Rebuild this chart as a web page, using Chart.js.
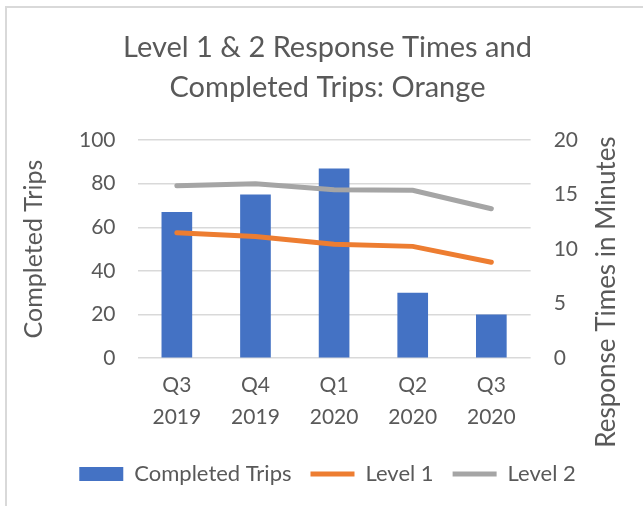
<!DOCTYPE html>
<html>
<head>
<meta charset="utf-8">
<script src="https://cdn.jsdelivr.net/npm/chart.js@4/dist/chart.umd.min.js"></script>
<style>
  body { margin: 0; background: #fff; }
  #frame { position: absolute; left: 5px; top: 6px; width: 700px; height: 600px; border: 2px solid #d9d9d9; }
  #wrap { position: absolute; left: 0; top: 0; width: 643px; height: 506px; }
</style>
</head>
<body>
<div id="frame"></div>
<div id="wrap"><canvas id="chart" width="643" height="506"></canvas></div>
<script>
"use strict";

var quarters = [["Q3", "2019"], ["Q4", "2019"], ["Q1", "2020"], ["Q2", "2020"], ["Q3", "2020"]];
var completedTrips = [67, 75, 87, 30, 20];
var level1 = [11.5, 11.15, 10.45, 10.25, 8.8];
var level2 = [15.8, 16.0, 15.45, 15.4, 13.7];

var textColor = '#595959';
var fontName = 'Lato';

// right axis title in the original reads bottom-to-top, so draw it here
var rightTitle = {
  id: 'rightTitle',
  afterDraw: function (chart) {
    var x = chart.width - 36;
    var y = (chart.scales.y1.top + chart.scales.x.bottom) / 2;
    var ctx = chart.ctx;
    ctx.save();
    ctx.translate(x, y);
    ctx.rotate(-Math.PI / 2);
    ctx.fillStyle = textColor;
    ctx.font = '26px ' + fontName;
    ctx.textAlign = 'center';
    ctx.textBaseline = 'middle';
    ctx.fillText('Response Times in Minutes', 0, 0);
    ctx.restore();
  }
};

var ctx = document.getElementById('chart').getContext('2d');
var chart = new Chart(ctx, {
  type: 'bar',
  data: {
    labels: quarters,
    datasets: [{
      label: 'Completed Trips',
      data: completedTrips,
      backgroundColor: '#4472C4',
      yAxisID: 'y',
      categoryPercentage: 1,
      barPercentage: 0.39,
      pointStyle: 'rect',
      order: 2
    }, {
      type: 'line',
      label: 'Level 1',
      data: level1,
      borderColor: '#ED7D31',
      backgroundColor: '#ED7D31',
      borderWidth: 5,
      borderCapStyle: 'round',
      pointRadius: 0,
      pointStyle: 'line',
      yAxisID: 'y1',
      order: 1
    }, {
      type: 'line',
      label: 'Level 2',
      data: level2,
      borderColor: '#A5A5A5',
      backgroundColor: '#A5A5A5',
      borderWidth: 5,
      borderCapStyle: 'round',
      pointRadius: 0,
      pointStyle: 'line',
      yAxisID: 'y1',
      order: 0
    }]
  },
  options: {
    responsive: false,
    animation: false,
    layout: { padding: { left: 19, right: 7, top: 8, bottom: 11 } },
    plugins: {
      title: {
        display: true,
        text: ['Level 1 & 2 Response Times and', 'Completed Trips: Orange'],
        color: textColor,
        font: { family: fontName, size: 29, weight: 'normal', lineHeight: 1.38 },
        padding: { top: 20, bottom: 32 }
      },
      legend: {
        position: 'bottom',
        labels: {
          color: textColor,
          font: { family: fontName, size: 22 },
          usePointStyle: true,
          pointStyleWidth: 44,
          boxHeight: 14,
          padding: 19,
          sort: function (a, b) { return a.datasetIndex - b.datasetIndex; }
        }
      },
      tooltip: { enabled: false }
    },
    scales: {
      x: {
        grid: { display: false, drawTicks: false },
        border: { display: false },
        ticks: {
          color: textColor,
          font: { family: fontName, size: 21, lineHeight: 1.52 },
          padding: 11,
          maxRotation: 0
        }
      },
      y: {
        position: 'left',
        min: 0,
        max: 100,
        ticks: { stepSize: 20, color: textColor, font: { family: fontName, size: 21 }, padding: 22 },
        grid: { color: '#d9d9d9', lineWidth: 1.5, drawTicks: false },
        border: { display: false },
        title: {
          display: true,
          text: 'Completed Trips',
          color: textColor,
          font: { family: fontName, size: 25 },
          padding: { top: 0, bottom: 8 }
        }
      },
      y1: {
        position: 'right',
        min: 0,
        max: 20,
        ticks: { stepSize: 5, color: textColor, font: { family: fontName, size: 21 }, padding: 23 },
        grid: { display: false, drawTicks: false },
        border: { display: false },
        // room for the hand-drawn axis title
        afterFit: function (scale) { scale.width += 35; }
      }
    }
  },
  plugins: [rightTitle]
});
</script>
</body>
</html>
